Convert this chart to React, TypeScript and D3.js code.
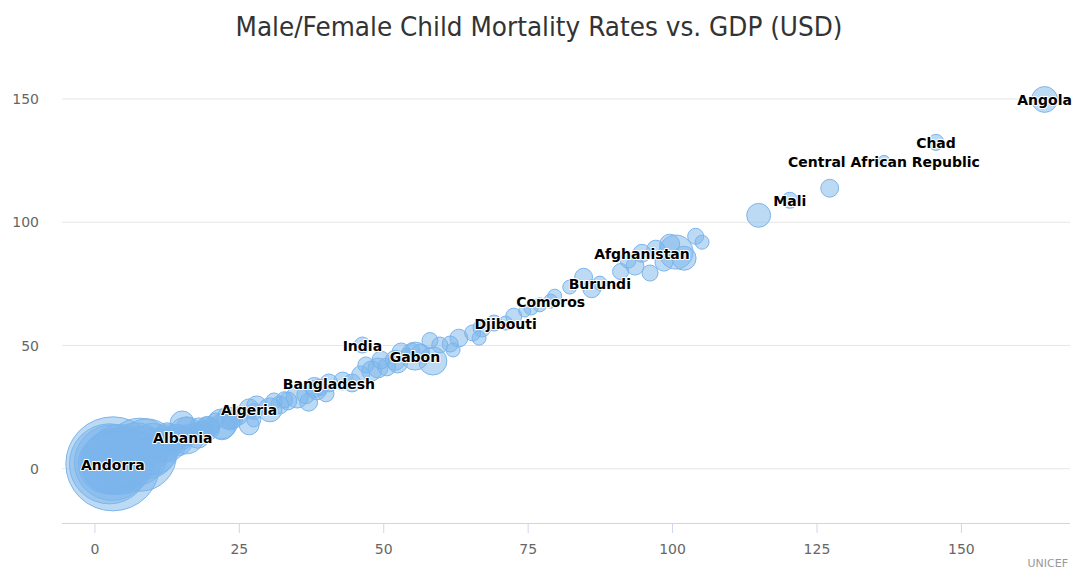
import React from "react";
import * as d3 from "d3";

const countries = [
  "Angola","Chad","Central African Republic","Somalia","Mali","Nigeria","Guinea-Bissau","Cote d'Ivoire","Equatorial Guinea","Mauritania",
  "DR Congo","Niger","Afghanistan","Guinea","Cameroon","Benin","Burkina Faso","Burundi","Togo","Pakistan",
  "Zambia","Comoros","Sudan","Ghana","Liberia","Djibouti","Mozambique","Uganda","Malawi","Ethiopia",
  "Tanzania","Zimbabwe","Senegal","Rwanda","Botswana","Gabon","Kenya","Haiti","Namibia","Madagascar",
  "Papua New Guinea","Myanmar","Yemen","Cambodia","India","Lao PDR","Nepal","Kiribati","Bangladesh","Tajikistan",
  "Turkmenistan","Bolivia","South Africa","Guyana","Kyrgyzstan","Micronesia","Iraq","Morocco","Algeria","Dominican Republic",
  "Egypt","Indonesia","Guatemala","Philippines","Honduras","Nicaragua","Paraguay","Jamaica","Suriname","Albania",
  "Brazil","Colombia","Mexico","Turkey","Venezuela","Kuwait","Qatar","Andorra","Luxembourg","Norway",
  "Switzerland","Denmark","Sweden","Australia","Netherlands","United States","Canada","Austria","Finland","Ireland",
  "Belgium","Germany","France","United Kingdom","Japan","Singapore","Iceland","Italy","Spain","New Zealand",
  "Israel","Cyprus","Slovenia","Portugal","Greece","Czech Republic","Estonia","Slovakia","Poland","Croatia",
  "Hungary","Lithuania","Latvia","Chile","Uruguay","Argentina","Russia","Malaysia","Belarus","Bulgaria",
  "Romania","Serbia","Ukraine","Sri Lanka","China","Thailand","Costa Rica","Lebanon","Oman","Saudi Arabia",
  "Bahrain","United Arab Emirates","Brunei","Trinidad and Tobago","Bahamas","Barbados","Ecuador","Peru","Panama","Iran",
  "Kazakhstan","Vietnam","Azerbaijan","Armenia","Georgia","Moldova","Tunisia","Jordan","Syria","El Salvador",
  "Belize","Fiji","Cape Verde","Mongolia","Bhutan","Timor-Leste","Eritrea","Solomon Islands","Sao Tome and Principe","Gambia",
  "Congo","Swaziland","Lesotho"
];

// x: male child mortality rate
const maleRates = [
  164.4,145.6,136.6,127.2,120.3,114.9,104.0,105.1,100.6,102.0,
  99.5,97.1,94.7,98.5,96.1,93.5,92.3,87.4,84.6,82.2,
  79.6,78.9,75.5,74.4,72.5,71.1,69.1,67.0,65.4,66.5,
  63.0,61.5,62.0,59.7,58.5,55.4,56.4,53.0,52.4,50.5,
  49.0,49.5,47.9,46.9,46.3,46.0,44.5,42.9,40.5,38.4,
  40.0,36.5,35.0,33.4,32.0,31.0,30.3,28.0,26.7,26.7,
  24.9,23.0,22.0,20.9,19.6,18.0,17.5,15.9,15.1,15.2,
  13.5,12.5,10.9,11.9,10.0,9.0,7.8,3.1,2.5,3.0,
  4.4,3.8,3.0,4.6,4.2,7.2,5.3,4.0,2.8,4.1,
  4.6,4.0,4.5,5.0,3.1,3.0,2.3,3.8,4.4,6.4,
  4.2,3.1,3.0,3.9,4.6,3.9,3.6,7.3,5.3,5.0,
  6.2,5.6,8.8,8.9,11.5,13.1,11.0,9.2,5.8,11.6,
  12.7,7.1,11.1,10.2,14.0,14.2,10.4,9.4,12.6,15.8,
  6.8,8.0,10.0,22.0,14.2,15.0,23.5,18.6,19.5,16.0,
  17.8,27.5,38.0,16.5,13.5,16.2,16.0,20.0,16.1,17.9,
  19.0,24.0,27.6,37.0,39.0,58.0,54.0,32.8,55.0,77.0,
  52.0,86.0,91.0
];

// y: female child mortality rate
const femaleRates = [
  149.8,132.4,124.7,113.8,108.9,102.8,94.3,91.9,87.9,85.4,
  91.1,89.1,87.4,83.8,79.4,82.2,84.6,75.3,77.7,73.7,
  70.0,68.0,65.2,64.0,61.9,59.1,59.1,57.1,55.1,53.0,
  53.0,50.6,48.2,50.2,43.7,45.7,47.0,47.4,42.9,41.3,
  40.9,44.1,39.7,42.1,50.2,38.1,34.8,35.6,34.8,32.0,
  30.4,30.0,29.1,27.5,25.9,27.5,23.9,25.5,24.3,17.8,
  21.5,20.6,17.0,19.4,17.0,16.6,14.6,17.0,18.6,13.0,
  12.1,13.4,10.5,8.5,8.9,8.1,5.7,2.0,2.0,2.5,
  3.8,3.2,2.6,3.9,3.6,6.0,4.6,3.4,2.3,3.5,
  3.7,3.5,3.6,4.1,2.7,2.5,2.0,3.2,3.7,5.3,
  3.5,2.6,2.4,3.2,3.8,3.2,2.8,6.0,4.3,4.3,
  5.2,4.6,7.0,7.4,9.6,10.6,8.6,7.6,4.3,9.8,
  10.3,5.9,8.8,8.4,12.2,11.6,8.7,8.2,10.4,13.5,
  6.0,6.8,8.0,18.2,11.6,12.6,19.3,15.3,16.4,14.2,
  13.2,19.8,33.0,13.8,11.2,13.2,13.1,17.0,13.0,14.6,
  15.2,20.0,23.2,27.0,33.0,52.0,46.0,28.0,48.0,66.5,
  44.0,73.0,80.0
];

// z: GDP per capita (USD)
const gdpPerCapita = [
  3000,880,300,1200,880,2500,880,570,5500,2500,
  1600,1200,1200,1200,880,1200,880,570,1200,570,
  570,570,570,300,880,570,880,1200,880,570,
  1200,880,570,880,3600,3600,1200,1200,1600,1200,
  1600,1200,1600,880,880,1200,1200,1200,1200,1600,
  880,1200,2050,1200,1200,880,2500,1600,1600,1600,
  1200,2050,3000,880,1600,1600,1600,1600,2500,1600,
  3000,3000,3600,3600,6000,18000,27000,45000,32500,29000,
  24500,22000,20600,19500,18000,19500,18000,17000,17000,17000,
  16000,16000,15000,14000,15000,19500,18000,12000,8000,12000,
  10000,7500,5500,4800,5500,3600,3000,3000,2500,2500,
  2500,2500,2500,3000,3000,3600,3000,1600,1200,1200,
  1200,880,570,570,1200,1200,2050,2050,6500,6500,
  10000,13000,13000,4200,4800,2500,1200,1600,2500,1200,
  2500,570,1600,880,880,570,1200,1200,880,880,
  1200,1200,880,1200,880,880,570,880,570,570,
  1600,1200,880
];

const labeled = [
  "Andorra","Albania","Algeria","Bangladesh","India","Gabon","Djibouti","Comoros",
  "Burundi","Afghanistan","Mali","Central African Republic","Chad","Angola"
];

const yTicks = [0, 50, 100, 150];
const xTicks = [0, 25, 50, 75, 100, 125, 150];

export default function App() {
  const W = 1077, H = 582;
  const left = 62, right = 1070, top = 62, bottom = 523;
  const x = d3.scaleLinear().domain([-5.7, 168.8]).range([left, right]);
  const y = d3.scaleLinear().domain([-22, 165]).range([bottom, top]);
  const zExt = d3.extent(gdpPerCapita) as [number, number];
  const area = d3.scaleLinear().domain(zExt).range([6 * 6, 47 * 47]);
  const rad = (z: number) => Math.sqrt(area(z));

  const points = countries.map((name, i) => ({
    name, mx: maleRates[i], fy: femaleRates[i], z: gdpPerCapita[i],
  }));
  const drawOrder = [...points].sort((a, b) => b.z - a.z);
  const labelPts = points.filter(p => labeled.includes(p.name));

  const font = "'DejaVu Sans', Verdana, sans-serif";

  return (
    <svg width={W} height={H} style={{ position: "absolute", left: 0, top: 0, background: "#fff" }}>
      <rect x={0} y={0} width={W} height={H} fill="#fff" />
      <text x={539} y={36} textAnchor="middle" fontFamily={font} fontSize={27} fill="#333"
        textLength={607} lengthAdjust="spacingAndGlyphs">
        Male/Female Child Mortality Rates vs. GDP (USD)
      </text>
      {yTicks.map(t => (
        <g key={"y" + t}>
          <line x1={left} x2={right} y1={y(t)} y2={y(t)} stroke="#e6e6e6" strokeWidth={1} />
          <text x={39} y={y(t) + 5} textAnchor="end" fontFamily={font} fontSize={14} fill="#666">{t}</text>
        </g>
      ))}
      <line x1={left} x2={right} y1={bottom + 0.5} y2={bottom + 0.5} stroke="#ccd6eb" strokeWidth={1} />
      {xTicks.map(t => (
        <g key={"x" + t}>
          <line x1={x(t)} x2={x(t)} y1={bottom} y2={bottom + 10} stroke="#ccd6eb" strokeWidth={1} />
          <text x={x(t)} y={554} textAnchor="middle" fontFamily={font} fontSize={14} fill="#666">{t}</text>
        </g>
      ))}
      <g>
        {drawOrder.map(p => (
          <circle key={p.name} cx={x(p.mx)} cy={y(p.fy)} r={rad(p.z)}
            fill="rgba(124,181,236,0.5)" stroke="#7cb5ec" strokeWidth={1} />
        ))}
      </g>
      <g>
        {labelPts.map(p => (
          <text key={"l" + p.name} x={x(p.mx)} y={y(p.fy) + 6} textAnchor="middle"
            fontFamily={font} fontWeight="bold" fontSize={14} fill="#000"
            stroke="#fff" strokeWidth={2} strokeLinejoin="round" style={{ paintOrder: "stroke" }}>
            {p.name}
          </text>
        ))}
      </g>
      <text x={1068} y={567} textAnchor="end" fontFamily={font} fontSize={11} fill="#999">UNICEF</text>
    </svg>
  );
}
